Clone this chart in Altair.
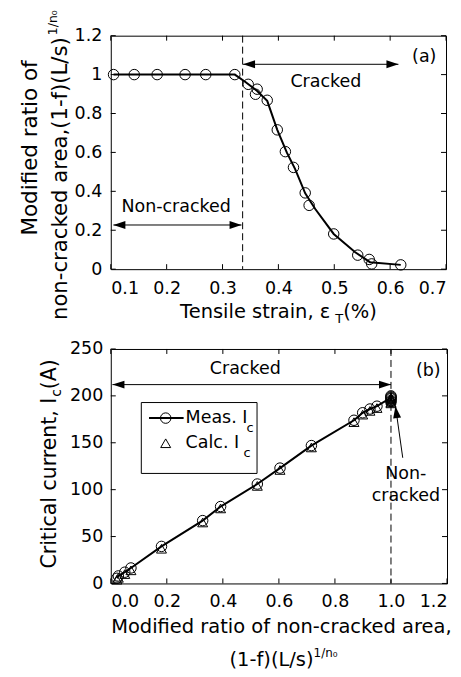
import altair as alt
import pandas as pd

FONT = "DejaVu Sans"

# ---------------- data ----------------
strain = [0.105, 0.142, 0.183, 0.233, 0.270, 0.322, 0.346, 0.359, 0.362, 0.380,
          0.398, 0.4125, 0.427, 0.448, 0.455, 0.499, 0.542, 0.5625, 0.567, 0.619]
ratio = [1.0, 1.0, 1.0, 1.0, 1.0, 1.0, 0.950, 0.899, 0.925, 0.868,
         0.716, 0.604, 0.523, 0.392, 0.328, 0.181, 0.072, 0.050, 0.027, 0.022]
ic_meas = [198, 195, 200, 194, 197, 199, 189, 182, 186, 174,
           147, 123, 106, 82, 67, 39.5, 16.5, 12, 8, 5.5]
ic_calc = [196, 193, 198, 192, 195, 197, 187, 180, 184, 172,
           145, 121, 104, 80, 65, 37, 14, 10, 6, 4]

# fitted curve of panel (a)
fit_strain = [0.105, 0.322, 0.341, 0.362, 0.380, 0.398, 0.415, 0.430, 0.448,
              0.466, 0.499, 0.5375, 0.564, 0.619]
fit_ratio = [1.0, 1.0, 0.962, 0.916, 0.865, 0.716, 0.600, 0.514, 0.390,
             0.309, 0.181, 0.087, 0.036, 0.022]

top_xticks = [0.1, 0.2, 0.3, 0.4, 0.5, 0.6, 0.7]
top_yticks = [0, 0.2, 0.4, 0.6, 0.8, 1.0, 1.2]
bot_xticks = [0, 0.2, 0.4, 0.6, 0.8, 1.0, 1.2]
bot_yticks = [0, 50, 100, 150, 200, 250]

crack_onset_strain = 0.336
crack_onset_ratio = 1.0

# annotation arrows (data units)
a_arrow_x1 = [0.3368, 0.1047]
a_arrow_x2 = [0.6148, 0.334]
a_arrow_y = [1.053, 0.227]
a_labels = ["Cracked", "Non-cracked", "(a)"]
a_label_x = [0.485, 0.217, 0.661]
a_label_y = [0.962, 0.318, 1.092]

b_arrow_x1 = [0.006]
b_arrow_x2 = [1.0]
b_arrow_y = [212]
b_labels = ["Cracked", "(b)", "Non-", "cracked"]
b_label_x = [0.48, 1.133, 1.053, 1.053]
b_label_y = [228.4, 226.6, 116.7, 92.8]
b_pointer_tail = [1.042, 134]
b_pointer_tip = [1.016, 189]

legend_box = [0.109, 0.522, 117.3, 192.9]
legend_line = [0.1365, 0.26]
legend_row_y = [176.3, 149.5]
legend_sym_x = 0.196
legend_text_x = 0.267

RIGHT_HEAD = "M 0 0 L -2 -0.667 L -2 0.667 Z"
LEFT_HEAD = "M 0 0 L 2 -0.667 L 2 0.667 Z"
UP_HEAD = "M 0 0 L -0.667 2 L 0.667 2 Z"

pts = pd.DataFrame({"strain": strain, "ratio": ratio, "meas": ic_meas, "calc": ic_calc})
fit = pd.DataFrame({"strain": fit_strain, "ratio": fit_ratio})


def ptext(txt, x, y, size, angle=0, align="left", baseline="alphabetic"):
    return alt.Chart(alt.Data(values=[{"t": txt}])).mark_text(
        align=align, baseline=baseline, fontSize=size, angle=angle,
        font=FONT, color="black"
    ).encode(x=alt.value(x), y=alt.value(y), text="t:N")


def frame_ticks(xticks, yticks, X, Y, W, H, L=5):
    xt = alt.Chart(pd.DataFrame({"v": xticks}))
    yt = alt.Chart(pd.DataFrame({"v": yticks}))
    r = dict(color="black", strokeWidth=1)
    return [
        xt.mark_rule(**r).encode(x=X("v"), y=alt.value(H), y2=alt.value(H - L)),
        xt.mark_rule(**r).encode(x=X("v"), y=alt.value(0), y2=alt.value(L)),
        yt.mark_rule(**r).encode(y=Y("v"), x=alt.value(0), x2=alt.value(L)),
        yt.mark_rule(**r).encode(y=Y("v"), x=alt.value(W), x2=alt.value(W - L)),
    ]


# ================= panel (a) =================
W1, H1 = 336, 234
xs1 = alt.Scale(domain=[0.1, 0.7], nice=False, zero=False)
ys1 = alt.Scale(domain=[0, 1.2], nice=False, zero=False)
xa1 = alt.Axis(values=top_xticks, format=".1f", labelPadding=10, tickSize=0, title=None)
ya1 = alt.Axis(values=top_yticks, format="~g", labelPadding=9, tickSize=0, title=None)


def X1(f):
    return alt.X(f"{f}:Q", scale=xs1, axis=xa1, title=None)


def Y1(f):
    return alt.Y(f"{f}:Q", scale=ys1, axis=ya1, title=None)


arrows_a = pd.DataFrame({"x1": a_arrow_x1, "x2": a_arrow_x2, "y": a_arrow_y})
labels_a = pd.DataFrame({"t": a_labels, "x": a_label_x, "y": a_label_y})

layers_a = frame_ticks(top_xticks, top_yticks, X1, Y1, W1, H1) + [
    alt.Chart(pd.DataFrame({"v": [crack_onset_strain]})).mark_rule(
        color="black", strokeWidth=1, strokeDash=[7, 4]).encode(x=X1("v")),
    alt.Chart(arrows_a).mark_rule(color="black", strokeWidth=1).encode(
        x=X1("x1"), x2="x2:Q", y=Y1("y")),
    alt.Chart(arrows_a).mark_point(shape=LEFT_HEAD, size=144, filled=True,
                                   color="black", opacity=1).encode(x=X1("x1"), y=Y1("y")),
    alt.Chart(arrows_a).mark_point(shape=RIGHT_HEAD, size=144, filled=True,
                                   color="black", opacity=1).encode(x=X1("x2"), y=Y1("y")),
    alt.Chart(fit).mark_line(color="black", strokeWidth=2).encode(
        x=X1("strain"), y=Y1("ratio")),
    alt.Chart(pts).mark_point(shape="circle", size=110, filled=False, color="black",
                              strokeWidth=1, opacity=1).encode(x=X1("strain"), y=Y1("ratio")),
    alt.Chart(labels_a).mark_text(font=FONT, fontSize=17.5, color="black",
                                  align="center", baseline="middle").encode(
        x=X1("x"), y=Y1("y"), text="t:N"),
    ptext("Modified ratio of", -73.7, 112.5, 21.5, angle=270, align="center"),
    ptext("non-cracked area,(1-f)(L/s)", -44, 285, 21.25, angle=270),
    ptext("1/n\u2080", -53.5, -0.5, 12.5, angle=270),
    ptext("Tensile strain, \u03b5", 69.5, 282.7, 19.5),
    ptext("T", 225, 287.7, 13),
    ptext("(%)", 233, 282.7, 19.5),
]
top = alt.layer(*layers_a).properties(width=W1, height=H1)

# ================= panel (b) =================
W2, H2 = 337, 235
xs2 = alt.Scale(domain=[0, 1.2], nice=False, zero=False)
ys2 = alt.Scale(domain=[0, 250], nice=False, zero=False)
xa2 = alt.Axis(values=bot_xticks, format=".1f", labelPadding=9, tickSize=0, title=None)
ya2 = alt.Axis(values=bot_yticks, format="d", labelPadding=8, tickSize=0, title=None)


def X2(f):
    return alt.X(f"{f}:Q", scale=xs2, axis=xa2, title=None)


def Y2(f):
    return alt.Y(f"{f}:Q", scale=ys2, axis=ya2, title=None)


arrows_b = pd.DataFrame({"x1": b_arrow_x1, "x2": b_arrow_x2, "y": b_arrow_y})
labels_b = pd.DataFrame({"t": b_labels, "x": b_label_x, "y": b_label_y})
pointer = pd.DataFrame({"x1": [b_pointer_tail[0]], "y1": [b_pointer_tail[1]],
                        "x2": [b_pointer_tip[0]], "y2": [b_pointer_tip[1]]})
box = pd.DataFrame({"x1": [legend_box[0]], "x2": [legend_box[1]],
                    "y1": [legend_box[2]], "y2": [legend_box[3]]})
leg_line = pd.DataFrame({"x1": [legend_line[0]], "x2": [legend_line[1]], "y": [legend_row_y[0]]})
leg_sym = pd.DataFrame({"x": [legend_sym_x], "y1": [legend_row_y[0]], "y2": [legend_row_y[1]]})
leg_txt = pd.DataFrame({"x": [legend_text_x, legend_text_x], "y": legend_row_y,
                        "t": ["Meas. I", "Calc. I"]})

layers_b = frame_ticks(bot_xticks, bot_yticks, X2, Y2, W2, H2) + [
    alt.Chart(pd.DataFrame({"v": [crack_onset_ratio]})).mark_rule(
        color="black", strokeWidth=1, strokeDash=[7, 4]).encode(x=X2("v")),
    alt.Chart(arrows_b).mark_rule(color="black", strokeWidth=1).encode(
        x=X2("x1"), x2="x2:Q", y=Y2("y")),
    alt.Chart(arrows_b).mark_point(shape=LEFT_HEAD, size=144, filled=True,
                                   color="black", opacity=1).encode(x=X2("x1"), y=Y2("y")),
    alt.Chart(arrows_b).mark_point(shape=RIGHT_HEAD, size=144, filled=True,
                                   color="black", opacity=1).encode(x=X2("x2"), y=Y2("y")),
    alt.Chart(pointer).mark_rule(color="black", strokeWidth=1).encode(
        x=X2("x1"), y=Y2("y1"), x2="x2:Q", y2="y2:Q"),
    alt.Chart(pointer).mark_point(shape=UP_HEAD, size=144, filled=True, angle=352,
                                  color="black", opacity=1).encode(x=X2("x2"), y=Y2("y2")),
    alt.Chart(pts).mark_line(color="black", strokeWidth=2).encode(
        x=X2("ratio"), y=Y2("meas")),
    alt.Chart(pts).mark_point(shape="circle", size=110, filled=False, color="black",
                              strokeWidth=1, opacity=1).encode(x=X2("ratio"), y=Y2("meas")),
    alt.Chart(pts).mark_point(shape="triangle-up", size=100, filled=False, color="black",
                              strokeWidth=1, opacity=1).encode(x=X2("ratio"), y=Y2("calc")),
    alt.Chart(box).mark_rect(fill="white", stroke="black", strokeWidth=1).encode(
        x=X2("x1"), x2="x2:Q", y=Y2("y1"), y2="y2:Q"),
    alt.Chart(leg_line).mark_rule(color="black", strokeWidth=2).encode(
        x=X2("x1"), x2="x2:Q", y=Y2("y")),
    alt.Chart(leg_sym).mark_point(shape="circle", size=110, filled=False, color="black",
                                  strokeWidth=1, opacity=1).encode(x=X2("x"), y=Y2("y1")),
    alt.Chart(leg_sym).mark_point(shape="triangle-up", size=100, filled=False, color="black",
                                  strokeWidth=1, opacity=1).encode(x=X2("x"), y=Y2("y2")),
    alt.Chart(leg_txt).mark_text(font=FONT, fontSize=17.5, color="black",
                                 align="left", baseline="middle").encode(
        x=X2("x"), y=Y2("y"), text="t:N"),
    alt.Chart(leg_txt.iloc[[0]]).mark_text(font=FONT, fontSize=13, color="black",
                                           align="left", baseline="middle", dx=61, dy=10).encode(
        x=X2("x"), y=Y2("y"), text=alt.value("c")),
    alt.Chart(leg_txt.iloc[[1]]).mark_text(font=FONT, fontSize=13, color="black",
                                           align="left", baseline="middle", dx=58, dy=10).encode(
        x=X2("x"), y=Y2("y"), text=alt.value("c")),
    alt.Chart(labels_b).mark_text(font=FONT, fontSize=17.5, color="black",
                                  align="center", baseline="middle").encode(
        x=X2("x"), y=Y2("y"), text="t:N"),
    ptext("Critical current, I", -55, 220, 20.5, angle=270),
    ptext("c", -50, 48, 14, angle=270),
    ptext("(A)", -55, 40.3, 20.5, angle=270),
    ptext("Modified ratio of non-cracked area,", 171, 285, 19.5, align="center"),
    ptext("(1-f)(L/s)", 119, 318, 19.5),
    ptext("1/n\u2080", 203.3, 309, 12),
]
bottom = alt.layer(*layers_b).properties(width=W2, height=H2)

chart = alt.vconcat(top, bottom, spacing=12).properties(
    padding={"left": 11, "top": 0, "right": 0, "bottom": 0}
).configure_view(stroke="black", strokeWidth=1).configure_axis(
    domain=False, ticks=False, grid=False, labelFont=FONT, labelFontSize=17.5,
    labelColor="black"
)

chart.save("out.html", embed_options={"renderer": "svg", "actions": False})
